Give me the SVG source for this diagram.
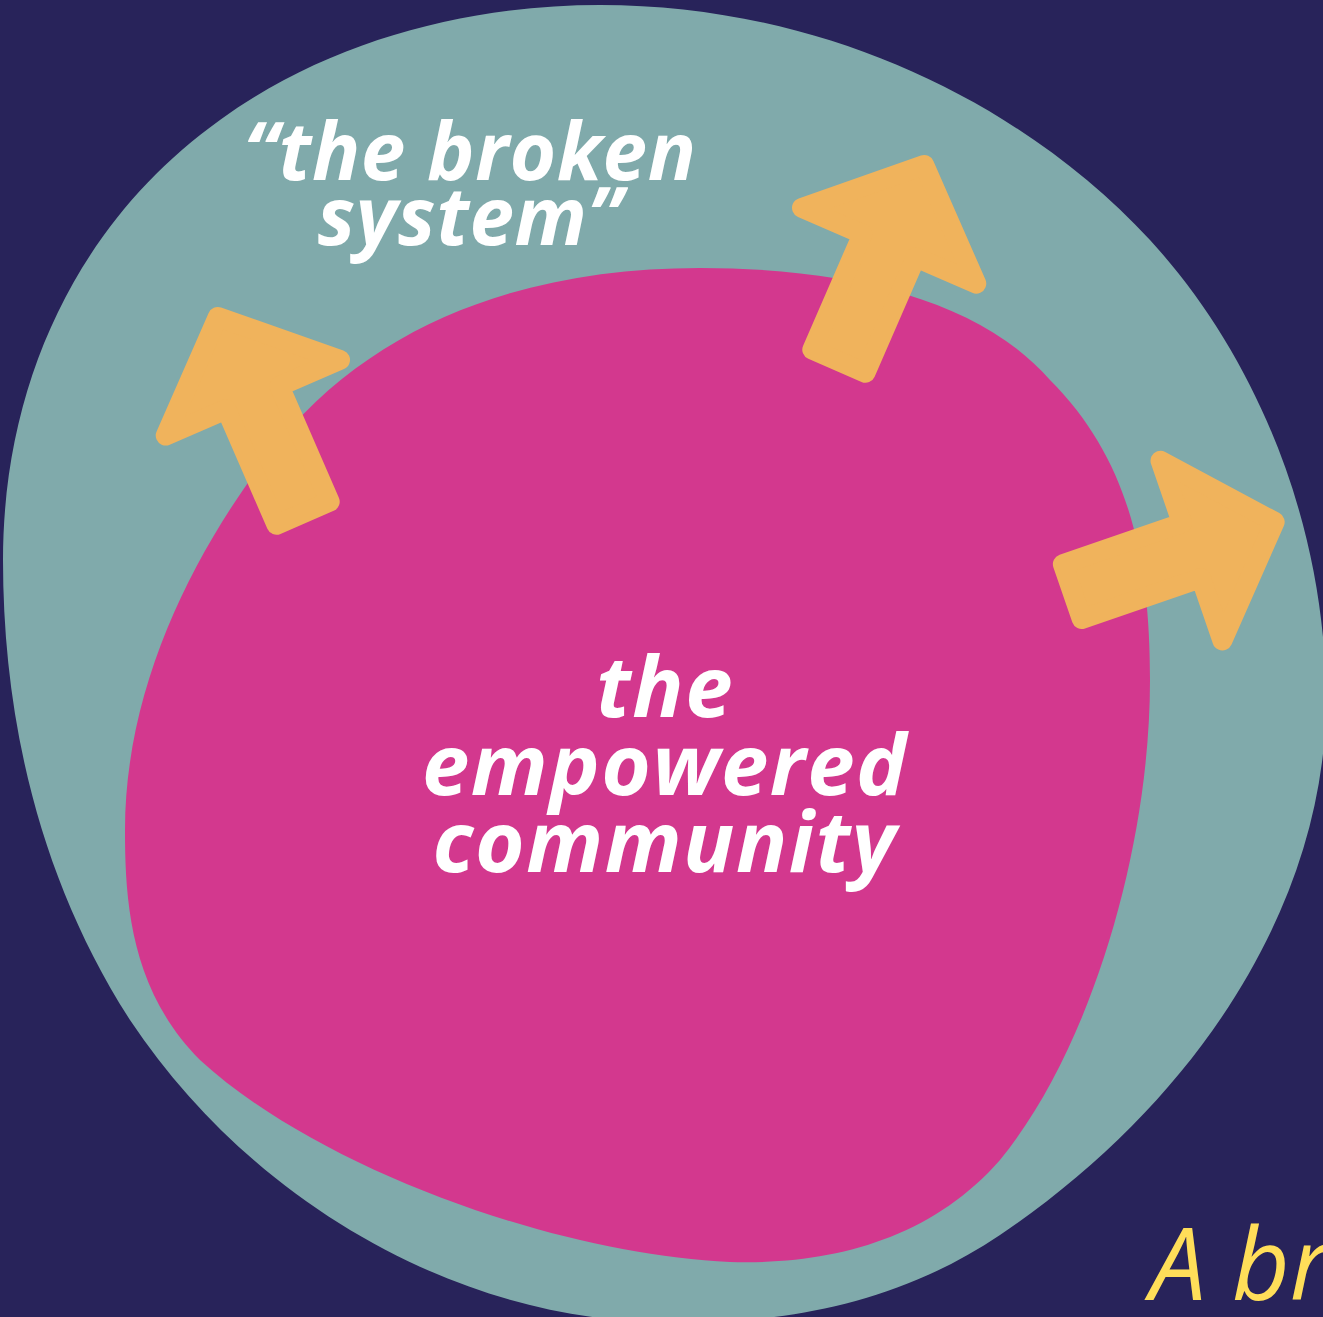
<svg xmlns="http://www.w3.org/2000/svg" width="1323" height="1317" viewBox="0 0 1323 1317">
<style>
.bg{fill:#28235A}
.teal{fill:#80AAAB}
.pink{fill:#D3388E}
.arrow{fill:#F0B35C;stroke:#F0B35C;stroke-width:20;stroke-linejoin:round}
.lbl{font-family:"Open Sans","Liberation Sans",sans-serif;font-weight:700;font-style:italic;fill:#FFFFFF;text-anchor:middle}
.cap{font-family:"Open Sans","Liberation Sans",sans-serif;font-weight:400;font-style:italic;fill:#FFDE59}
</style>
<defs>
<polygon id="arr" points="0,12 95,100 29,100 29,226 -29,226 -29,100 -95,100"/>
</defs>
<rect class="bg" x="0" y="0" width="1323" height="1317"/>
<g id="broken-system">
<path class="teal" d="M 600 5 C 820 5 1020 100 1150 240 C 1260 360 1326 530 1326 700 C 1326 900 1200 1100 1000 1235 C 880 1316 750 1325 650 1322 C 450 1315 250 1200 130 1020 C 40 880 3 720 3 560 C 3 380 80 220 220 120 C 330 40 470 5 600 5 Z"/>
<text class="lbl" font-size="80" letter-spacing="0.5"><tspan x="470" y="180">“the broken</tspan><tspan x="470" y="245">system”</tspan></text>
</g>
<g id="empowered-community">
<path class="pink" d="M 700 268 C 850 268 980 300 1050 380 C 1130 460 1150 560 1150 680 C 1150 850 1090 1050 1000 1160 C 930 1240 830 1265 730 1262 C 560 1255 320 1170 200 1060 C 130 990 125 900 125 830 C 125 680 200 540 280 440 C 380 320 530 268 700 268 Z"/>
<text class="lbl" font-size="85" letter-spacing="1.5"><tspan x="665" y="717">the</tspan><tspan x="665" y="795">empowered</tspan><tspan x="665" y="872">community</tspan></text>
</g>
<g id="connectors">
<use href="#arr" class="arrow" transform="translate(213,306) rotate(-23.5)"/>
<use href="#arr" class="arrow" transform="translate(929,154) rotate(23.5)"/>
<use href="#arr" class="arrow" transform="translate(1286,518) rotate(71)"/>
</g>
<g id="caption">
<text class="cap" font-size="100" x="1150" y="1300">A br</text>
</g>
</svg>
